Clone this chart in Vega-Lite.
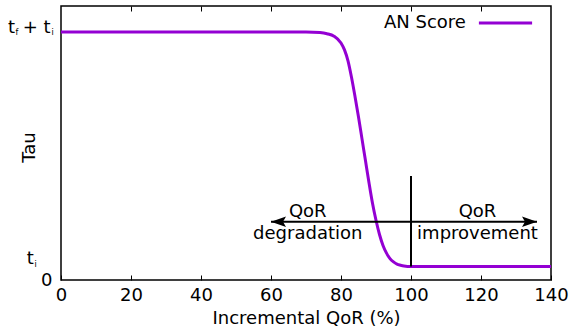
{
  "$schema": "https://vega.github.io/schema/vega-lite/v6.json",
  "width": 490,
  "height": 274,
  "autosize": {"type": "none"},
  "padding": {"left": 61, "top": 6, "right": 24, "bottom": 51},
  "config": {
    "view": {"stroke": "black", "strokeWidth": 1.5},
    "font": "DejaVu Sans",
    "text": {"font": "DejaVu Sans", "color": "black"},
    "axis": {
      "labelFont": "DejaVu Sans", "labelFontSize": 18, "labelColor": "black",
      "titleFont": "DejaVu Sans", "titleFontSize": 18, "titleFontWeight": "normal", "titleColor": "black",
      "tickColor": "black", "tickWidth": 1, "domain": false, "grid": false, "labelFlush": false
    }
  },
  "datasets": {
    "curve": [
      {"x": 0, "y": 0.905}, {"x": 70, "y": 0.905}, {"x": 74, "y": 0.903}, {"x": 76, "y": 0.899},
      {"x": 78, "y": 0.89}, {"x": 80, "y": 0.865}, {"x": 81, "y": 0.84}, {"x": 82, "y": 0.8},
      {"x": 83, "y": 0.74}, {"x": 84, "y": 0.67}, {"x": 85, "y": 0.595}, {"x": 86, "y": 0.515},
      {"x": 87, "y": 0.435}, {"x": 88, "y": 0.355}, {"x": 89, "y": 0.28}, {"x": 90, "y": 0.218},
      {"x": 91, "y": 0.166}, {"x": 92, "y": 0.126}, {"x": 93, "y": 0.098}, {"x": 94, "y": 0.078},
      {"x": 95, "y": 0.066}, {"x": 96, "y": 0.058}, {"x": 97, "y": 0.054}, {"x": 98, "y": 0.051},
      {"x": 100, "y": 0.049}, {"x": 140, "y": 0.049}
    ],
    "hrule": [{"x": 60, "x2": 136, "y": 0.213}],
    "vrule": [{"x": 100, "y": 0.049, "y2": 0.38}],
    "heads": [{"x": 60, "y": 0.213, "dir": "left"}, {"x": 136, "y": 0.213, "dir": "right"}],
    "notes": [
      {"x": 70.5, "y": 0.25, "text": "QoR"},
      {"x": 70.5, "y": 0.168, "text": "degradation"},
      {"x": 119, "y": 0.25, "text": "QoR"},
      {"x": 119, "y": 0.168, "text": "improvement"}
    ],
    "legend": [{"x": 119.4, "x2": 134.6, "y": 0.938, "lx": 115.7, "label": "AN Score"}],
    "ticklabels": [{"top": 0.905, "bottom": 0.049}]
  },
  "resolve": {"axis": {"x": "independent", "y": "independent"}},
  "layer": [
    {
      "data": {"name": "curve"},
      "mark": {"type": "line", "color": "#9400D3", "strokeWidth": 3, "interpolate": "monotone"},
      "encoding": {
        "x": {"field": "x", "type": "quantitative", "scale": {"domain": [0, 140], "nice": false},
          "axis": {"orient": "bottom", "values": [0, 20, 40, 60, 80, 100, 120, 140], "tickSize": -5, "labelPadding": 11, "title": "Incremental QoR (%)", "titlePadding": 5}},
        "y": {"field": "y", "type": "quantitative", "scale": {"domain": [0, 1], "nice": false},
          "axis": {"orient": "left", "values": [0], "ticks": false, "labelPadding": 9, "title": "Tau", "titleX": -31.5, "titleY": 141, "titleAngle": 270, "titleBaseline": "middle", "titleAlign": "center"}}
      }
    },
    {
      "data": {"name": "vrule"},
      "mark": {"type": "rule", "color": "black", "strokeWidth": 2},
      "encoding": {
        "x": {"field": "x", "type": "quantitative", "axis": {"orient": "top", "values": [20, 40, 60, 80, 100, 120], "tickSize": -5, "labels": false, "title": null}},
        "y": {"field": "y", "type": "quantitative", "axis": null},
        "y2": {"field": "y2"}
      }
    },
    {
      "data": {"name": "hrule"},
      "mark": {"type": "rule", "color": "black", "strokeWidth": 2},
      "encoding": {
        "x": {"field": "x", "type": "quantitative", "axis": null},
        "x2": {"field": "x2"},
        "y": {"field": "y", "type": "quantitative", "axis": null}
      }
    },
    {
      "data": {"name": "heads"},
      "mark": {"type": "point", "filled": true, "color": "black", "opacity": 1, "size": 225, "strokeWidth": 0},
      "encoding": {
        "x": {"field": "x", "type": "quantitative", "axis": null},
        "y": {"field": "y", "type": "quantitative", "axis": null},
        "shape": {"field": "dir", "type": "nominal", "legend": null,
          "scale": {"domain": ["left", "right"], "range": ["M0,0L2,-0.7L1.6,0L2,0.7Z", "M0,0L-2,-0.7L-1.6,0L-2,0.7Z"]}}
      }
    },
    {
      "data": {"name": "notes"},
      "mark": {"type": "text", "fontSize": 18, "align": "center", "baseline": "middle"},
      "encoding": {
        "x": {"field": "x", "type": "quantitative", "axis": null},
        "y": {"field": "y", "type": "quantitative", "axis": null},
        "text": {"field": "text"}
      }
    },
    {
      "data": {"name": "legend"},
      "mark": {"type": "rule", "color": "#9400D3", "strokeWidth": 3},
      "encoding": {
        "x": {"field": "x", "type": "quantitative", "axis": null},
        "x2": {"field": "x2"},
        "y": {"field": "y", "type": "quantitative", "axis": null}
      }
    },
    {
      "data": {"name": "legend"},
      "mark": {"type": "text", "fontSize": 18, "align": "right", "baseline": "middle"},
      "encoding": {
        "x": {"field": "lx", "type": "quantitative", "axis": null},
        "y": {"field": "y", "type": "quantitative", "axis": null},
        "text": {"field": "label"}
      }
    },
    {
      "data": {"name": "ticklabels"},
      "mark": {"type": "text", "fontSize": 18, "align": "left", "baseline": "alphabetic", "dx": -53, "dy": 1},
      "encoding": {"x": {"datum": 0, "type": "quantitative", "axis": null}, "y": {"field": "top", "type": "quantitative", "axis": null}, "text": {"value": "t"}}
    },
    {
      "data": {"name": "ticklabels"},
      "mark": {"type": "text", "fontSize": 8, "align": "left", "baseline": "alphabetic", "dx": -45.5, "dy": 3},
      "encoding": {"x": {"datum": 0, "type": "quantitative", "axis": null}, "y": {"field": "top", "type": "quantitative", "axis": null}, "text": {"value": "f"}}
    },
    {
      "data": {"name": "ticklabels"},
      "mark": {"type": "text", "fontSize": 18, "align": "left", "baseline": "alphabetic", "dx": -38.3, "dy": 1},
      "encoding": {"x": {"datum": 0, "type": "quantitative", "axis": null}, "y": {"field": "top", "type": "quantitative", "axis": null}, "text": {"value": "+ t"}}
    },
    {
      "data": {"name": "ticklabels"},
      "mark": {"type": "text", "fontSize": 8, "align": "left", "baseline": "alphabetic", "dx": -9.5, "dy": 3},
      "encoding": {"x": {"datum": 0, "type": "quantitative", "axis": null}, "y": {"field": "top", "type": "quantitative", "axis": null}, "text": {"value": "i"}}
    },
    {
      "data": {"name": "ticklabels"},
      "mark": {"type": "text", "fontSize": 18, "align": "left", "baseline": "alphabetic", "dx": -34.3, "dy": -3},
      "encoding": {"x": {"datum": 0, "type": "quantitative", "axis": null}, "y": {"field": "bottom", "type": "quantitative", "axis": null}, "text": {"value": "t"}}
    },
    {
      "data": {"name": "ticklabels"},
      "mark": {"type": "text", "fontSize": 8, "align": "left", "baseline": "alphabetic", "dx": -26.5, "dy": 0.5},
      "encoding": {"x": {"datum": 0, "type": "quantitative", "axis": null}, "y": {"field": "bottom", "type": "quantitative", "axis": null}, "text": {"value": "i"}}
    }
  ]
}
